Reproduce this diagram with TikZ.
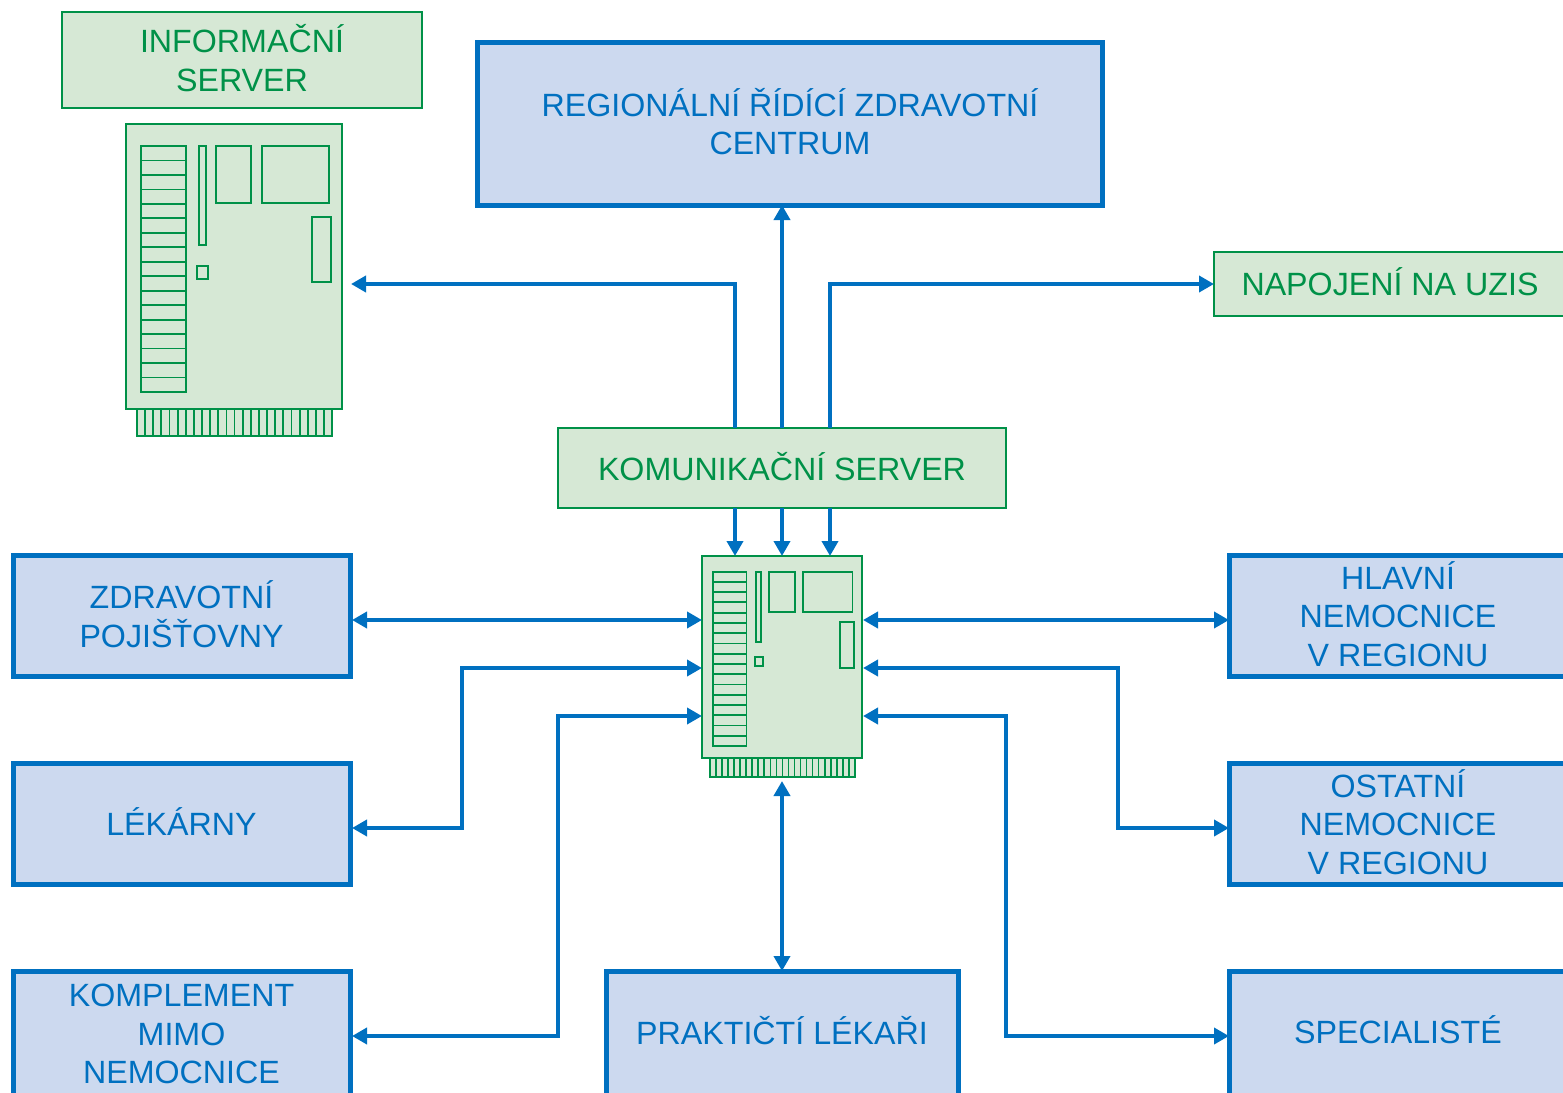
\documentclass[tikz,border=0pt]{standalone}
\usepackage{fontspec}
\setmainfont{Liberation Sans}
\usetikzlibrary{arrows.meta}

\definecolor{linkblue}{HTML}{0070C0}
\definecolor{paleblue}{HTML}{CCD9EF}
\definecolor{boardgreen}{HTML}{009148}
\definecolor{palegreen}{HTML}{D6E8D5}

% one circuit board, drawn from its top left corner
\def\boardparts{
  \draw (15,22) rectangle (60,268);
  \foreach \row in {1,...,16} {
    \draw (15,22+\row*14.47) -- (60,22+\row*14.47);
  }
  \draw (73,22) rectangle (80,121);
  \draw (90,22) rectangle (125,79);
  \draw (136,22) rectangle (203,79);
  \draw (186,93) rectangle (205,158);
  \draw (71,142) rectangle (82,155);
  \filldraw (11,285) rectangle (206,312);
  \foreach \pin in {1,...,23} {
    \draw (11+\pin*8.13,285) -- (11+\pin*8.13,312);
  }
}

\tikzset{
  bluebox/.style={draw=linkblue, fill=paleblue, text=linkblue, line width=5pt,
    inner sep=0pt, outer sep=0pt, align=center, text depth=4pt,
    font=\fontsize{32.2}{38.6}\selectfont},
  greenbox/.style={draw=boardgreen, fill=palegreen, text=boardgreen, line width=2pt,
    inner sep=0pt, outer sep=0pt, align=center, text depth=4pt,
    font=\fontsize{32.2}{38.6}\selectfont},
  boardbox/.style={draw=boardgreen, fill=palegreen, line width=1.8pt,
    inner sep=0pt, outer sep=0pt, anchor=north west},
  boardline/.style={draw=boardgreen, fill=palegreen, line width=1.8pt},
  link/.style={draw=linkblue, line width=4.4pt, -{Triangle[length=15pt,width=16pt]}},
  twoway/.style={link, {Triangle[length=15pt,width=16pt]}-{Triangle[length=15pt,width=16pt]}},
}

\begin{document}
\begin{tikzpicture}[x=1pt, y=-1pt]
\useasboundingbox (0,0) rectangle (1563,1092);

\coordinate (infoport) at (351,284);
\coordinate (westportb) at (702,668);
\coordinate (westportc) at (702,716);
\coordinate (eastportb) at (863,668);
\coordinate (eastportc) at (863,716);

\node[greenbox, minimum width=360pt, minimum height=96pt] (infoname) at (242,60) {INFORMAČNÍ\\SERVER};
\node[bluebox, minimum width=625pt, minimum height=163pt] (regional) at (790,123.5) {REGIONÁLNÍ ŘÍDÍCÍ ZDRAVOTNÍ\\CENTRUM};
\node[greenbox, minimum width=352pt, minimum height=64pt] (uzis) at (1390,284) {NAPOJENÍ NA UZIS};
\node[greenbox, minimum width=448pt, minimum height=80pt] (comm) at (782,468) {KOMUNIKAČNÍ SERVER};

\node[bluebox, minimum width=337pt, minimum height=121pt] (insurers) at (181.5,616) {ZDRAVOTNÍ\\POJIŠŤOVNY};
\node[bluebox, minimum width=337pt, minimum height=121pt] (pharmacies) at (181.5,824) {LÉKÁRNY};
\node[bluebox, minimum width=337pt, minimum height=126pt, text depth=0pt] (complement) at (181.5,1034) {KOMPLEMENT\\MIMO\\NEMOCNICE};
\node[bluebox, minimum width=352pt, minimum height=124pt, text depth=6pt] (practitioners) at (782,1033) {PRAKTIČTÍ LÉKAŘI};
\node[bluebox, minimum width=338pt, minimum height=121pt] (mainhospital) at (1398,616) {HLAVNÍ\\NEMOCNICE\\V REGIONU};
\node[bluebox, minimum width=338pt, minimum height=121pt] (otherhospital) at (1398,824) {OSTATNÍ\\NEMOCNICE\\V REGIONU};
\node[bluebox, minimum width=338pt, minimum height=124pt, text depth=6pt] (specialists) at (1398,1033) {SPECIALISTÉ};

\node[boardbox, minimum width=216pt, minimum height=285pt] (infoboard) at (126,124) {};
\begin{scope}[shift={(infoboard.north west)}, boardline]
  \boardparts
\end{scope}
\node[boardbox, minimum width=160pt, minimum height=202pt] (mainboard) at (702,556) {};
\begin{scope}[shift={(mainboard.north west)}, x=0.741pt, y=-0.709pt, boardline]
  \boardparts
\end{scope}

\draw[link] ([xshift=-47pt]comm.north) |- (infoport);
\draw[link] (comm.north) -- (comm.north |- regional.south);
\draw[link] ([xshift=48pt]comm.north) |- (uzis.west);
\draw[link] ([xshift=-47pt]comm.south) -- ([xshift=-47pt]mainboard.north);
\draw[link] (comm.south) -- (mainboard.north);
\draw[link] ([xshift=48pt]comm.south) -- ([xshift=48pt]mainboard.north);

\draw[twoway] ([xshift=2pt,yshift=-4pt]insurers.east) -- ([yshift=-4pt]insurers.east -| mainboard.west);
\draw[twoway] ([xshift=2pt,yshift=-4pt]pharmacies.east) -| (462,668) -- (westportb);
\draw[twoway] ([xshift=2pt,yshift=-2pt]complement.east) -| (558,716) -- (westportc);
\draw[twoway] ([yshift=-4pt]mainhospital.west) -- ([yshift=-4pt,xshift=1pt]mainhospital.west -| mainboard.east);
\draw[twoway] ([yshift=-4pt]otherhospital.west) -| (1118,668) -- (eastportb);
\draw[twoway] ([yshift=-3pt]specialists.west) -| (1006,716) -- (eastportc);
\draw[twoway] (practitioners.north) -- (782,781);
\end{tikzpicture}
\end{document}
